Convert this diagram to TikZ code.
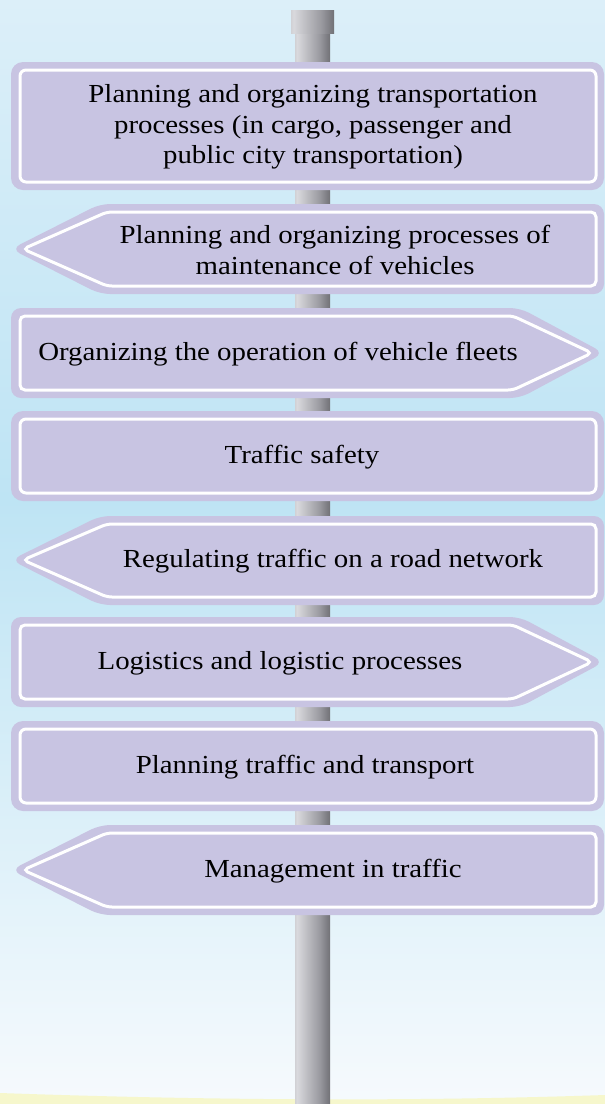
\documentclass[tikz,border=0pt]{standalone}
\usepackage{fontspec}
\setmainfont{Liberation Serif}[FakeStretch=1.11]
\begin{document}
\definecolor{skytop}{HTML}{DCEFF9}
\definecolor{skymid}{HTML}{BEE4F4}
\definecolor{skybot}{HTML}{F6FAFD}
\definecolor{groundc}{HTML}{F6F7CC}
\definecolor{lav}{HTML}{C8C4E2}
\definecolor{poleA}{HTML}{8E8E92}
\definecolor{poleB}{HTML}{D9D9DD}
\definecolor{poleC}{HTML}{9A9AA0}
\definecolor{poleD}{HTML}{55555A}
\pgfdeclarehorizontalshading{poleshade}{100bp}{color(0bp)=(poleA); color(28bp)=(poleB); color(60bp)=(poleC); color(85bp)=(poleD); color(100bp)=(poleD!80!black)}
\begin{tikzpicture}[x=1pt,y=-1pt,
  signfill/.style={fill=lav},
  signline/.style={draw=white,line width=3pt},
  signtext/.style={font=\fontsize{26}{30.5}\selectfont,text=black,align=center,inner sep=0pt}]
\useasboundingbox (0,0) rectangle (605,1104);
% background
\shade[top color=skymid, bottom color=skybot] (0,500) rectangle (605,1104);
\shade[top color=skytop, bottom color=skymid] (0,0) rectangle (605,500);
\fill[groundc] (0,1093) .. controls (200,1100) and (400,1102) .. (605,1095) -- (605,1104) -- (0,1104) -- cycle;
% pole
\shade[shading=poleshade] (295,33) rectangle (330,1104);
\shade[shading=poleshade] (291,10) rectangle (334,33);
% sign 1 (rect)
\fill[signfill, rounded corners=12pt] (11,62) rectangle (604,190);
\draw[signline, rounded corners=6pt] (20,70) rectangle (596,182);
% sign 2 (left)
\fill[signfill, rounded corners=10pt] (11,249) -- (100,204) -- (604,204) -- (604,294) -- (100,294) -- cycle;
\draw[signline, rounded corners=5pt] (23,249) -- (107,212) -- (596,212) -- (596,286) -- (107,286) -- cycle;
% sign 3 (right)
\fill[signfill, rounded corners=10pt] (11,308) -- (520,308) -- (604,353) -- (520,398) -- (11,398) -- cycle;
\draw[signline, rounded corners=5pt] (20,316) -- (513,316) -- (592,353) -- (513,390) -- (20,390) -- cycle;
% sign 4 (rect)
\fill[signfill, rounded corners=12pt] (11,411) rectangle (604,501);
\draw[signline, rounded corners=6pt] (20,419) rectangle (596,493);
% sign 5 (left)
\fill[signfill, rounded corners=10pt] (11,560) -- (100,516) -- (604,516) -- (604,605) -- (100,605) -- cycle;
\draw[signline, rounded corners=5pt] (23,560) -- (107,524) -- (596,524) -- (596,597) -- (107,597) -- cycle;
% sign 6 (right)
\fill[signfill, rounded corners=10pt] (11,617) -- (520,617) -- (604,662) -- (520,707) -- (11,707) -- cycle;
\draw[signline, rounded corners=5pt] (20,625) -- (513,625) -- (592,662) -- (513,699) -- (20,699) -- cycle;
% sign 7 (rect)
\fill[signfill, rounded corners=12pt] (11,721) rectangle (604,811);
\draw[signline, rounded corners=6pt] (20,729) rectangle (596,803);
% sign 8 (left)
\fill[signfill, rounded corners=10pt] (11,870) -- (100,825) -- (604,825) -- (604,915) -- (100,915) -- cycle;
\draw[signline, rounded corners=5pt] (23,870) -- (107,833) -- (596,833) -- (596,907) -- (107,907) -- cycle;
% texts
\node[signtext] (t1) at (313,127) {Planning and organizing transportation\\processes (in cargo, passenger and\\public city transportation)};
\node[signtext] (t2) at (335,250) {Planning and organizing processes of\\maintenance of vehicles};
\node[signtext] (t3) at (278,354) {Organizing the operation of vehicle fleets};
\node[signtext] (t4) at (302,457) {Traffic safety};
\node[signtext] (t5) at (333,561) {Regulating traffic on a road network};
\node[signtext] (t6) at (280,663) {Logistics and logistic processes};
\node[signtext] (t7) at (305,767) {Planning traffic and transport};
\node[signtext] (t8) at (333,871) {Management in traffic};
\end{tikzpicture}
\end{document}
